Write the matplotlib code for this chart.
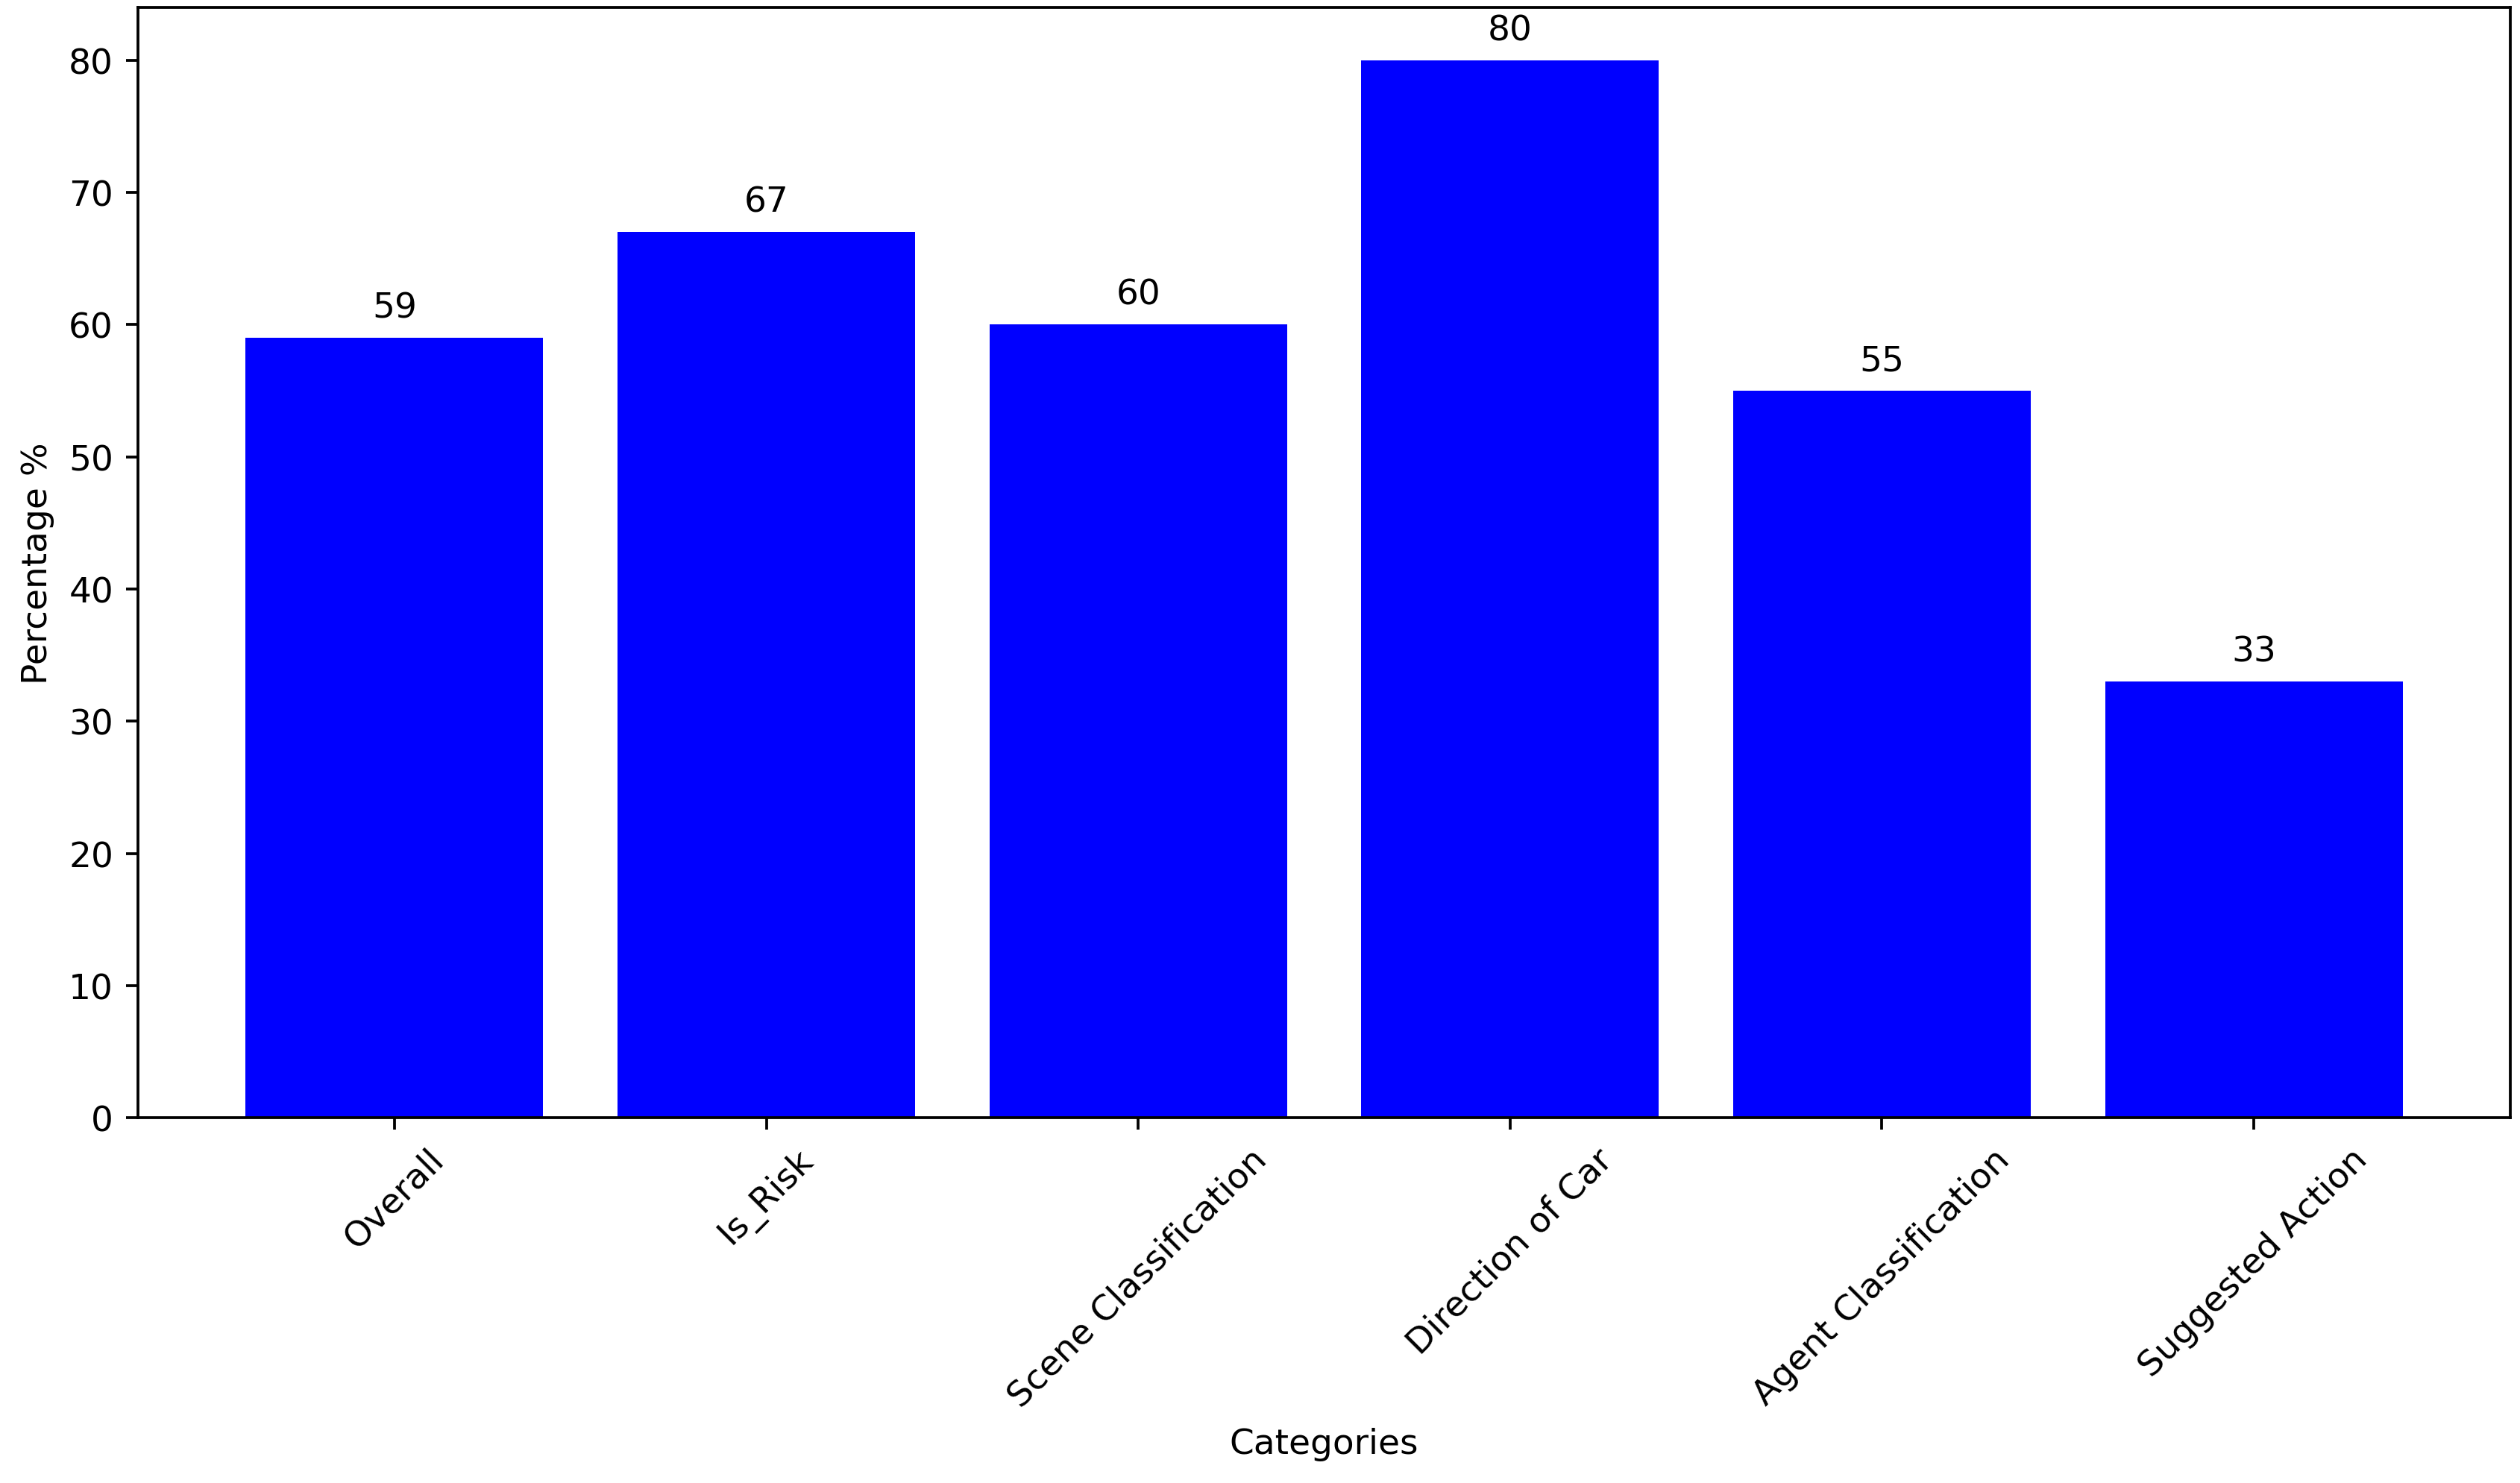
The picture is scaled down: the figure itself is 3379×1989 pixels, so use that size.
import matplotlib
matplotlib.use('Agg')
import matplotlib.pyplot as plt

# accuracy per category
categories = ['Overall', 'Is_Risk', 'Scene Classification', 'Direction of Car',
              'Agent Classification', 'Suggested Action']
percentages = [59, 67, 60, 80, 55, 33]

fig, ax = plt.subplots(figsize=(3379 / 338, 1990 / 338), dpi=338)
fig.subplots_adjust(left=0.0547, right=0.9962, top=0.9945, bottom=0.2462)

bars = ax.bar(categories, percentages, color='blue')

# value labels on top of the bars
for bar in bars:
    yval = bar.get_height()
    ax.text(bar.get_x() + bar.get_width() / 2, yval + 1, int(yval),
            ha='center', va='bottom')

ax.set_xlabel('Categories')
ax.set_ylabel('Percentage %')
plt.xticks(rotation=45)

fig.savefig('out.png', dpi=338)
